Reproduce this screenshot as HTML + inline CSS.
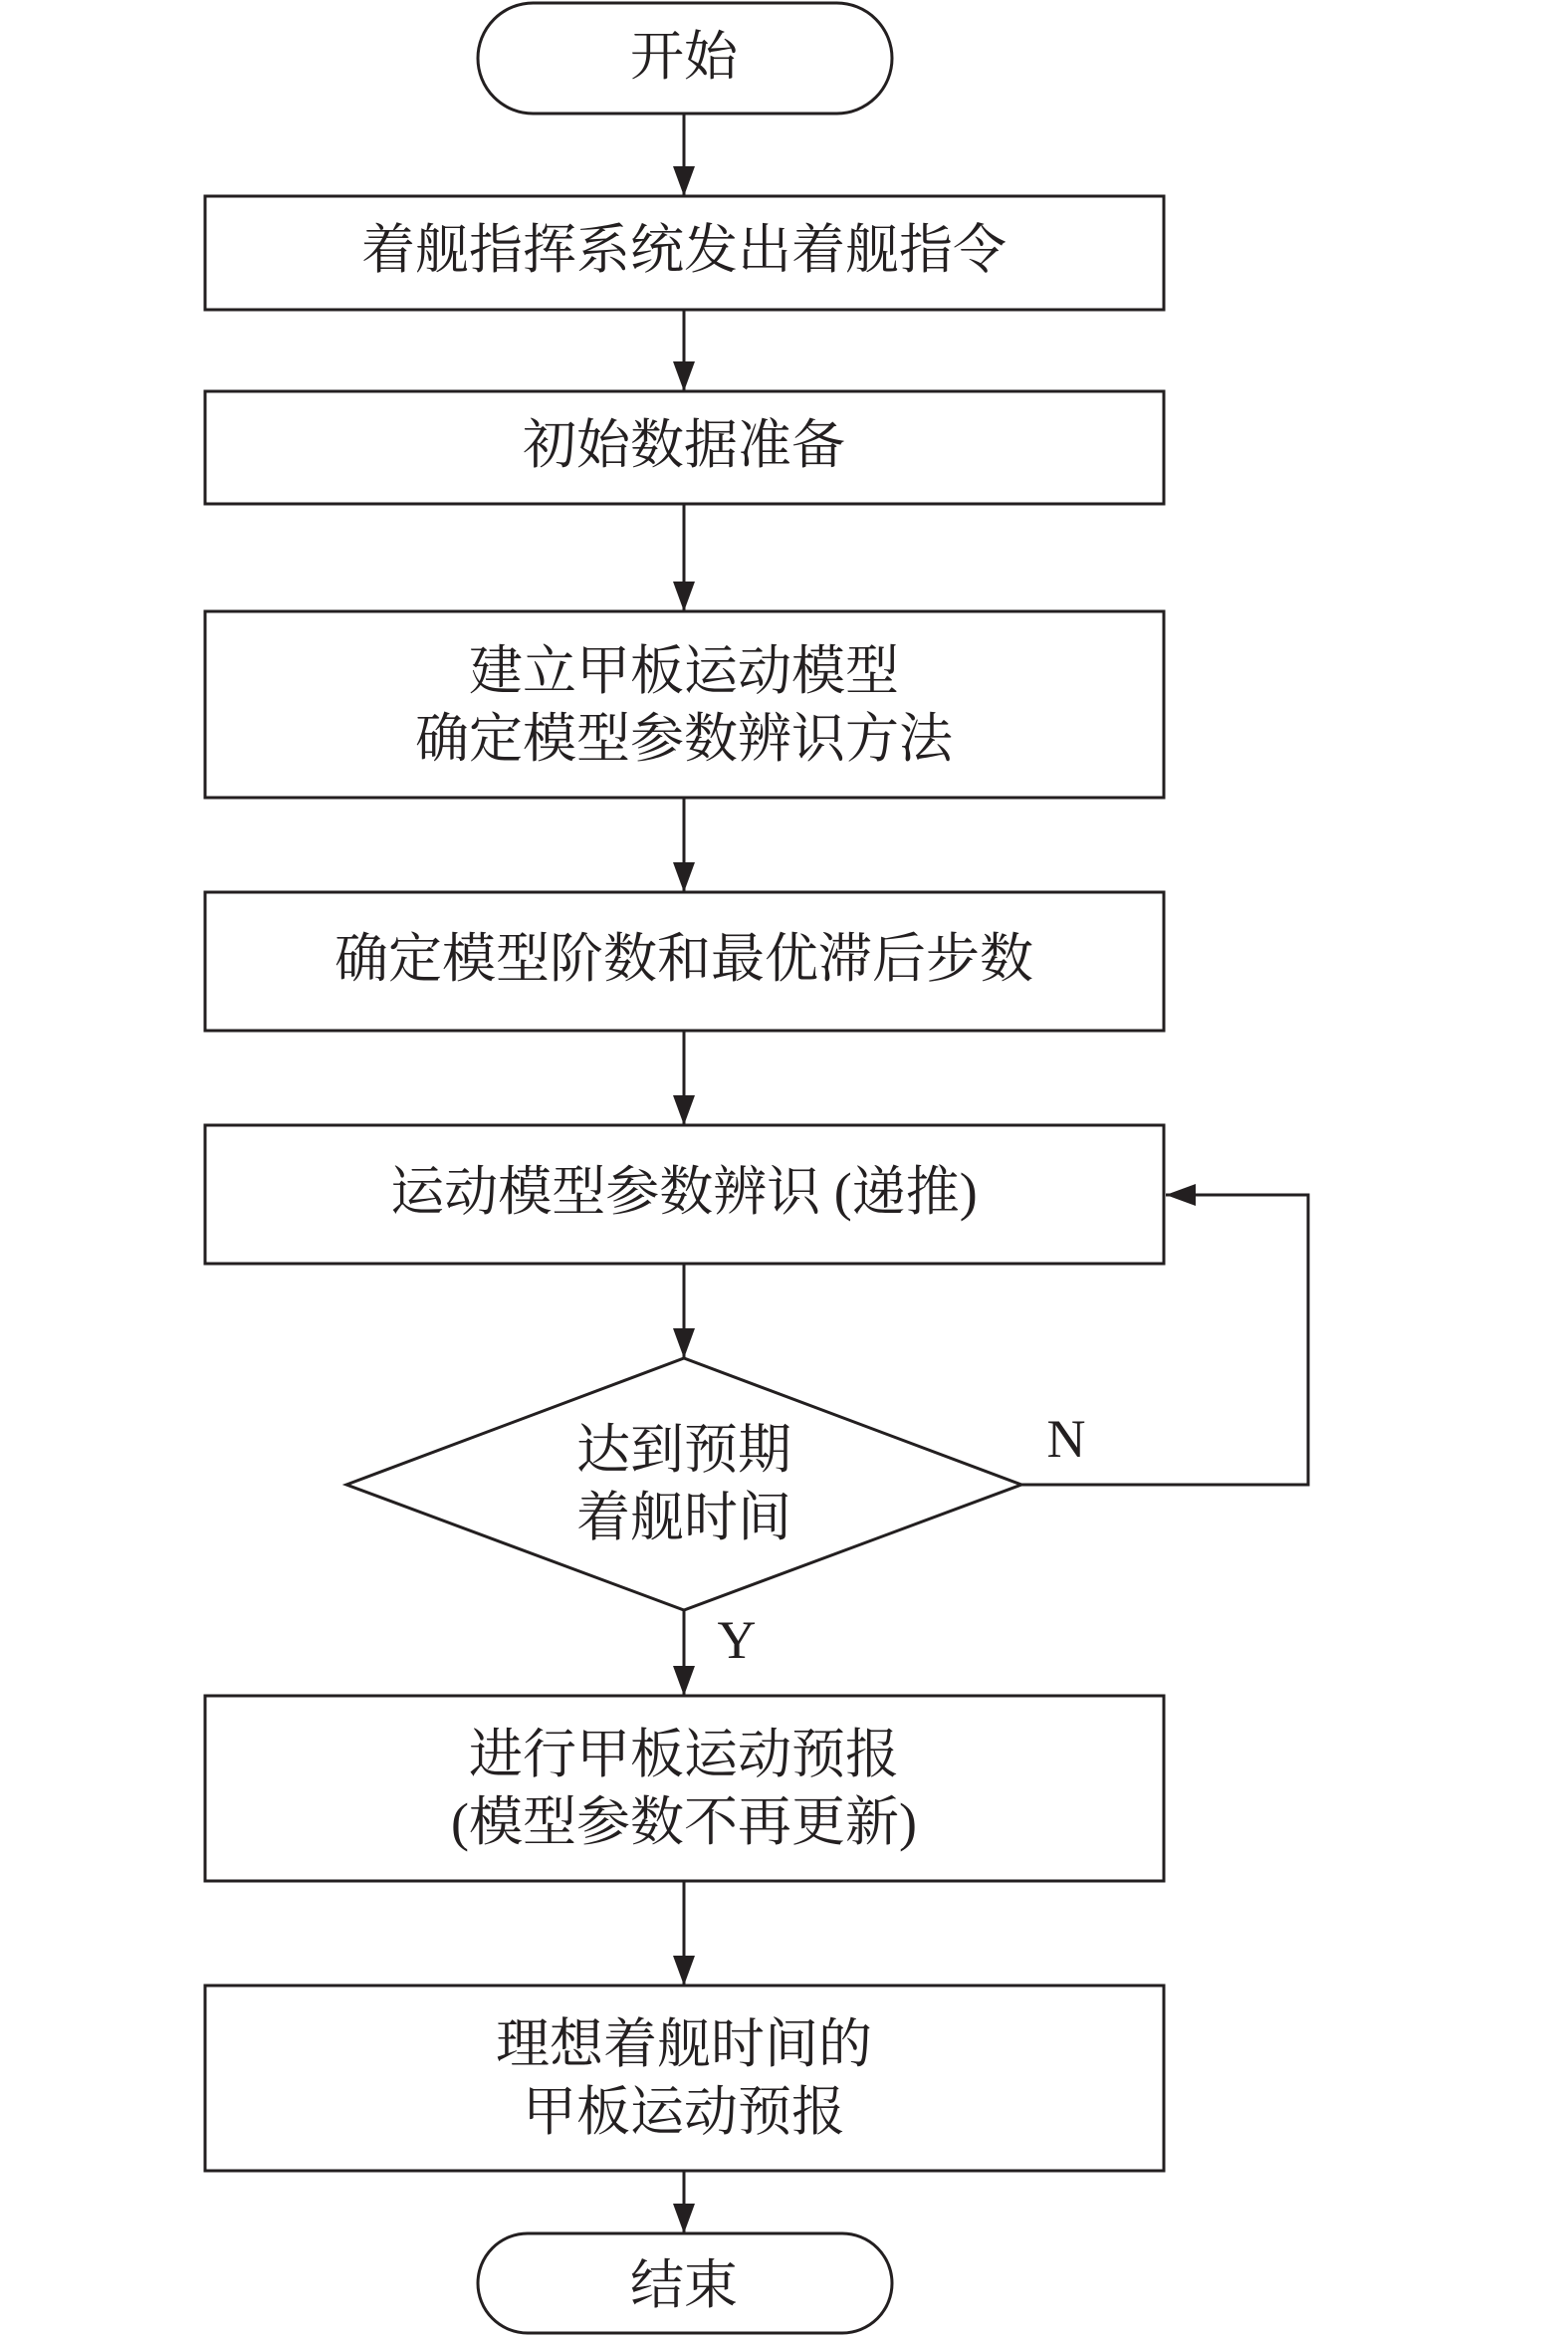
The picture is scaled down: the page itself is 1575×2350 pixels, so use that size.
<!DOCTYPE html>
<html><head><meta charset="utf-8"><style>
html,body{margin:0;padding:0;background:#fff}
text{font-family:"Liberation Serif","Noto Serif CJK SC",serif;font-size:54px;fill:#231f20;text-anchor:middle;dominant-baseline:central}
</style></head><body>
<svg width="1575" height="2345" viewBox="0 0 1575 2345" xmlns="http://www.w3.org/2000/svg">
<defs><marker id="a" markerWidth="12" markerHeight="12" refX="10" refY="6" orient="auto" markerUnits="userSpaceOnUse"><path d="M0,0 L12,6 L0,12 Z" fill="#231f20"/></marker>
<marker id="b" viewBox="0 0 10 10" markerWidth="30" markerHeight="22" refX="10" refY="5" orient="auto" markerUnits="userSpaceOnUse" preserveAspectRatio="none"><path d="M0,0 L10,5 L0,10 Z" fill="#231f20"/></marker></defs>
<g fill="none" stroke="#231f20" stroke-width="3">
<rect x="480" y="3" width="416" height="111" rx="55.5"/>
<rect x="206" y="197" width="963" height="114"/>
<rect x="206" y="393" width="963" height="113"/>
<rect x="206" y="614" width="963" height="187"/>
<rect x="206" y="896" width="963" height="139"/>
<rect x="206" y="1130" width="963" height="139"/>
<polygon points="348,1491 687,1364 1026,1491 687,1617"/>
<rect x="206" y="1703" width="963" height="186"/>
<rect x="206" y="1994" width="963" height="186"/>
<rect x="480" y="2243" width="416" height="100" rx="50"/>
<g marker-end="url(#b)">
<line x1="687" y1="114" x2="687" y2="197"/>
<line x1="687" y1="311" x2="687" y2="393"/>
<line x1="687" y1="506" x2="687" y2="614"/>
<line x1="687" y1="801" x2="687" y2="896"/>
<line x1="687" y1="1035" x2="687" y2="1130"/>
<line x1="687" y1="1269" x2="687" y2="1364"/>
<line x1="687" y1="1617" x2="687" y2="1703"/>
<line x1="687" y1="1889" x2="687" y2="1994"/>
<line x1="687" y1="2180" x2="687" y2="2243"/>
<polyline points="1026,1491 1314,1491 1314,1200 1171,1200"/>
</g></g>
<text x="687" y="57">开始</text>
<text x="687" y="251">着舰指挥系统发出着舰指令</text>
<text x="687" y="447">初始数据准备</text>
<text x="687" y="674">建立甲板运动模型</text>
<text x="687" y="742">确定模型参数辨识方法</text>
<text x="687" y="963">确定模型阶数和最优滞后步数</text>
<text x="687" y="1197">运动模型参数辨识 (递推)</text>
<text x="687" y="1456">达到预期</text>
<text x="687" y="1524">着舰时间</text>
<text x="1071" y="1445">N</text>
<text x="740" y="1647">Y</text>
<text x="687" y="1762">进行甲板运动预报</text>
<text x="687" y="1830">(模型参数不再更新)</text>
<text x="687" y="2053">理想着舰时间的</text>
<text x="687" y="2121">甲板运动预报</text>
<text x="687" y="2295">结束</text>
</svg>
</body></html>
